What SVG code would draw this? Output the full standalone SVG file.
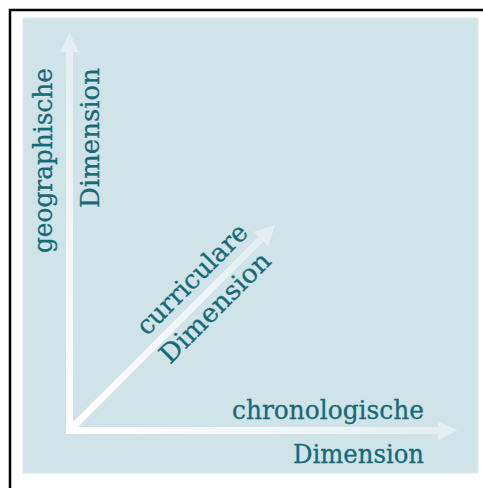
<svg xmlns="http://www.w3.org/2000/svg" width="483" height="488" viewBox="0 0 483 488">
  <style>
    .lbl { font-family: "DejaVu Serif", "Liberation Serif", serif; font-size: 26px; fill: #156a76; stroke: #156a76; stroke-width: 0.3px; }
  </style>
  <defs>
    <linearGradient id="gv" gradientUnits="userSpaceOnUse" x1="0" y1="434" x2="0" y2="32">
      <stop offset="0" stop-color="#ffffff"/>
      <stop offset="1" stop-color="#e2eef2"/>
    </linearGradient>
    <linearGradient id="gh" gradientUnits="userSpaceOnUse" x1="66" y1="0" x2="458" y2="0">
      <stop offset="0" stop-color="#ffffff"/>
      <stop offset="1" stop-color="#e2eef2"/>
    </linearGradient>
    <linearGradient id="gd" gradientUnits="userSpaceOnUse" x1="0" y1="0" x2="291" y2="0">
      <stop offset="0" stop-color="#ffffff"/>
      <stop offset="1" stop-color="#e2eef2"/>
    </linearGradient>
  </defs>
  <rect x="0" y="0" width="483" height="488" fill="#ffffff"/>
  <rect x="10" y="10" width="490" height="490" fill="none" stroke="#000000" stroke-width="2.5"/>
  <rect id="panel" x="23" y="18" width="455" height="455" fill="#cfe3e9" stroke="#dbeaef" stroke-width="1"/>
  <g id="connectors">
    <polygon id="arrow-geo" fill="url(#gv)" points="66,434 73,434 73,52 79,52 69.5,32.5 60,52 66,52"/>
    <polygon id="arrow-chrono" fill="url(#gh)" points="66,427 438,427 438,421 457.5,430.5 438,440 438,434 66,434"/>
    <polygon id="arrow-curr" fill="url(#gd)" transform="translate(69.5,430.5) rotate(-45)" points="0,-3.5 271,-3.5 271,-10 291,0 271,10 271,3.5 0,3.5"/>
  </g>
  <g id="node-geographisch">
    <text class="lbl" transform="translate(51.5,68) rotate(-90)" text-anchor="end" textLength="185" lengthAdjust="spacingAndGlyphs">geographische</text>
    <text class="lbl" transform="translate(99,68) rotate(-90)" text-anchor="end" textLength="140" lengthAdjust="spacingAndGlyphs">Dimension</text>
  </g>
  <g id="node-curricular">
    <text class="lbl" transform="translate(249.5,234) rotate(-45)" text-anchor="end" textLength="145" lengthAdjust="spacingAndGlyphs">curriculare</text>
    <text class="lbl" transform="translate(272.5,262.5) rotate(-45)" text-anchor="end" textLength="145" lengthAdjust="spacingAndGlyphs">Dimension</text>
  </g>
  <g id="node-chronologisch">
    <text class="lbl" x="424" y="418.5" text-anchor="end" textLength="192" lengthAdjust="spacingAndGlyphs">chronologische</text>
    <text class="lbl" x="424" y="462.5" text-anchor="end" textLength="131" lengthAdjust="spacingAndGlyphs">Dimension</text>
  </g>
</svg>
